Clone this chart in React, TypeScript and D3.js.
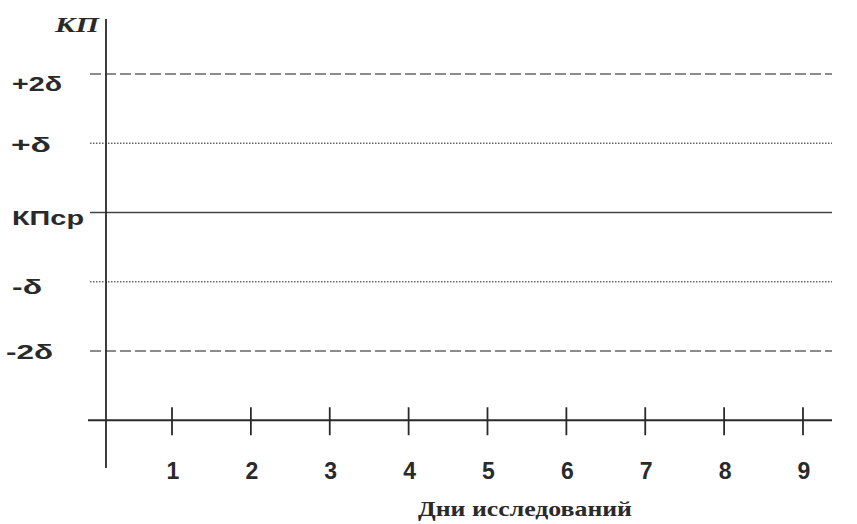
import React from 'react';
import * as d3 from 'd3';

// control levels (in units of δ) and their labels
const levels = [2, 1, 0, -1, -2];
const levelLabels = ['+2δ', '+δ', 'КПср', '-δ', '-2δ'];
const levelStyles = ['dash', 'dot', 'solid', 'dot', 'dash'];
const days = [1, 2, 3, 4, 5, 6, 7, 8, 9];
const yTitle = 'КП';
const xTitle = 'Дни исследований';

const width = 857;
const height = 524;

// label widths in the scan are stretched wider than the plain font
const labelWidths: Record<string, number> = {
  '+2δ': 50, '+δ': 40, 'КПср': 72, '-δ': 30, '-2δ': 47,
};
const labelLeft: Record<string, number> = {
  '+2δ': 12, '+δ': 11, 'КПср': 12, '-δ': 12, '-2δ': 6,
};
// baseline offset below each level line
const labelDrop: Record<string, number> = {
  '+2δ': 17, '+δ': 9, 'КПср': 12, '-δ': 12, '-2δ': 8,
};

const App: React.FC = () => {
  const x = d3.scaleLinear().domain([1, 9]).range([172, 803]);
  const y = d3.scaleLinear().domain([-2, 2]).range([351, 74]);
  const axisY = y(-3.0);
  const axisX = 106;
  const lineStart = 90;
  const lineEnd = 832;
  const ink = '#2a2a2a';
  const sans = "Arial, 'Liberation Sans', sans-serif";
  const serif = "'Liberation Serif', 'DejaVu Serif', serif";

  const dashFor = (s: string) =>
    s === 'dash' ? '11,4' : s === 'dot' ? '1.5,1.5' : undefined;

  return (
    <svg
      width={width}
      height={height}
      style={{ position: 'absolute', left: 0, top: 0, background: '#fff' }}
    >
      {/* horizontal control lines */}
      {levels.map((v, i) => (
        <g key={v}>
          <line
            x1={lineStart}
            x2={lineEnd}
            y1={y(v)}
            y2={y(v)}
            stroke={levelStyles[i] === 'solid' ? '#444' : '#666'}
            strokeWidth={levelStyles[i] === 'solid' ? 1.6 : 1.3}
            strokeDasharray={dashFor(levelStyles[i])}
          />
          <text
            x={labelLeft[levelLabels[i]]}
            y={y(v) + labelDrop[levelLabels[i]]}
            fontFamily={sans}
            fontWeight="bold"
            fontSize={21}
            fill={ink}
            textLength={labelWidths[levelLabels[i]]}
            lengthAdjust="spacingAndGlyphs"
          >
            {levelLabels[i]}
          </text>
        </g>
      ))}

      {/* y axis */}
      <line x1={axisX} x2={axisX} y1={19} y2={468} stroke={ink} strokeWidth={1.8} />
      <text
        x={55}
        y={32}
        fontFamily={serif}
        fontStyle="italic"
        fontWeight="bold"
        fontSize={22}
        fill={ink}
        textLength={44}
        lengthAdjust="spacingAndGlyphs"
      >
        {yTitle}
      </text>

      {/* x axis */}
      <line x1={88} x2={lineEnd} y1={axisY} y2={axisY} stroke={ink} strokeWidth={2} />
      {days.map((d) => (
        <g key={d}>
          <line
            x1={x(d)}
            x2={x(d)}
            y1={axisY - 13}
            y2={axisY + 15}
            stroke={ink}
            strokeWidth={1.8}
          />
          <text
            x={x(d) + 1}
            y={axisY + 59}
            textAnchor="middle"
            fontFamily={sans}
            fontWeight="bold"
            fontSize={23}
            fill={ink}
          >
            {d}
          </text>
        </g>
      ))}
      <text
        x={418}
        y={516}
        fontFamily={serif}
        fontWeight="bold"
        fontSize={21}
        fill={ink}
        textLength={214}
        lengthAdjust="spacingAndGlyphs"
      >
        {xTitle}
      </text>
    </svg>
  );
};

export default App;
